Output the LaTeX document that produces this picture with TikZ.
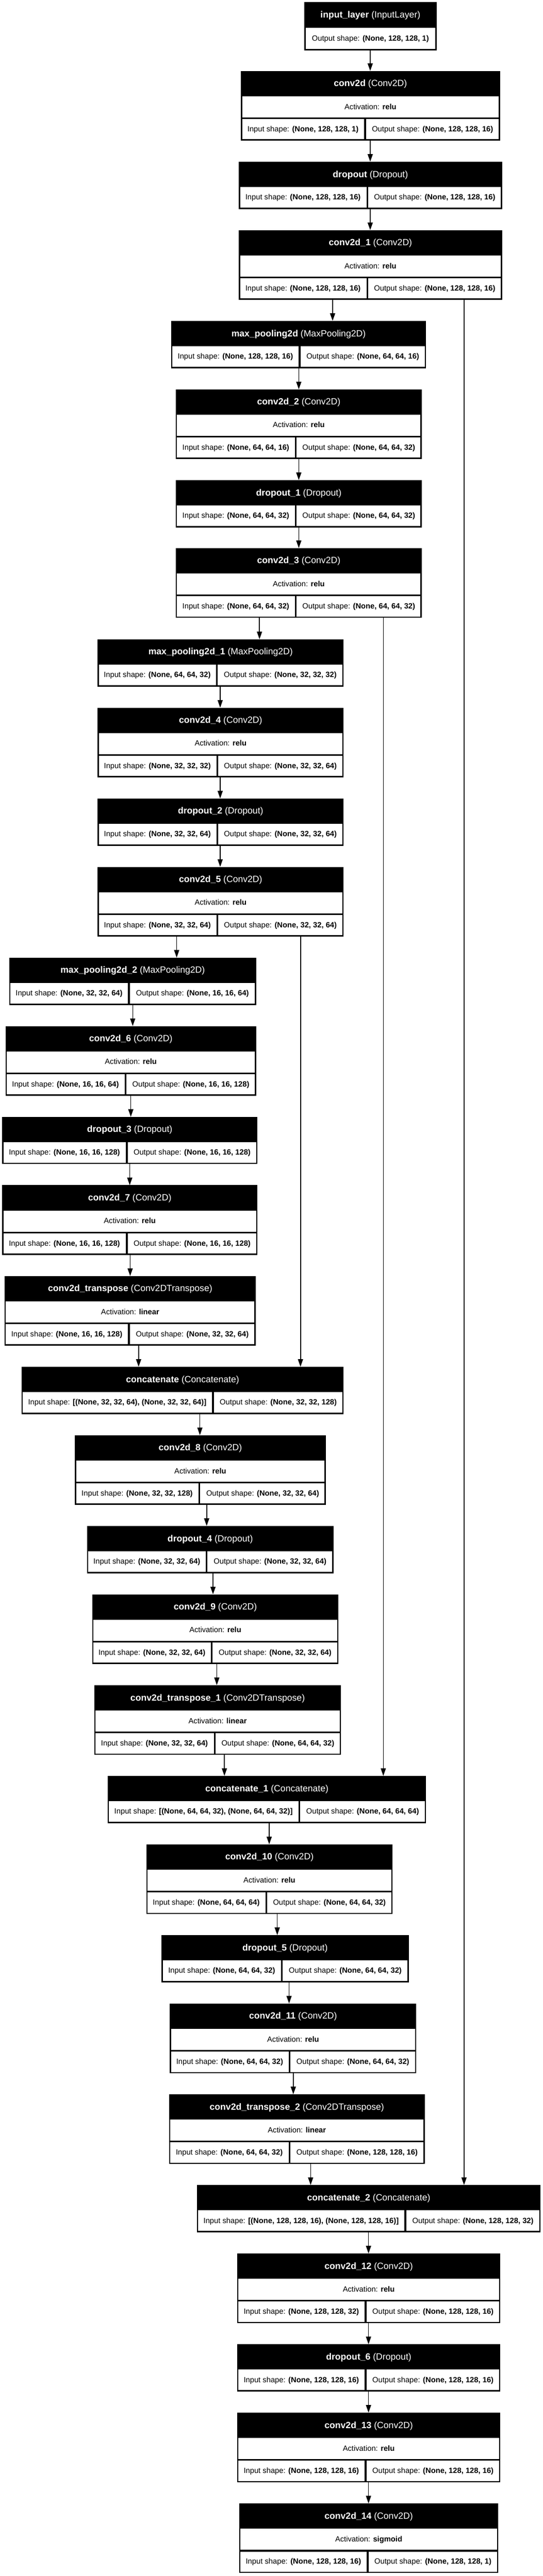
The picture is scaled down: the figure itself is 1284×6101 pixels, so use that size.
\documentclass[tikz,border=0pt]{standalone}
\usepackage{fontspec}
\setmainfont{Liberation Sans}
\usetikzlibrary{arrows.meta}
\newcommand{\bodyfnt}{\fontsize{18}{21}\selectfont}
\newcommand{\headfnt}{\fontsize{21.5}{25}\selectfont}
\tikzset{
  layerbox/.style={fill=black, inner sep=0pt, outer sep=0pt, rectangle, anchor=north west},
  bodytxt/.style={font=\bodyfnt, text=black, inner sep=0pt, anchor=center, text height=15pt, text depth=3.5pt},
  headtxt/.style={font=\headfnt, text=white, inner sep=0pt, anchor=center, text height=17.9pt, text depth=4.2pt},
  flow/.style={line width=2pt, -{Triangle[length=18pt,width=12pt]}},
}
% name, L, R, D, T, header, activation, in, out
\newcommand{\convlayer}[9]{%
  \node[layerbox, minimum width={(#3-#2)*1pt}, minimum height=165pt] (#1) at (#2,#5) {};
  \fill[white] ({#2+3},{#5+60}) rectangle ({#3-3},{#5+110});
  \fill[white] ({#2+3},{#5+114}) rectangle ({#4-2},{#5+162});
  \fill[white] ({#4+2},{#5+114}) rectangle ({#3-3},{#5+162});
  \node[headtxt] (#1-h) at ({(#2+#3)/2},{#5+30}) {#6};
  \node[bodytxt] (#1-a) at ({(#2+#3)/2},{#5+85}) {Activation: \textbf{#7}};
  \node[bodytxt] (#1-i) at ({(#2+#4)/2},{#5+138}) {Input shape: \textbf{#8}};
  \node[bodytxt] (#1-o) at ({(#4+#3)/2},{#5+138}) {Output shape: \textbf{#9}};
}
% name, L, R, D, T, header, in, out
\newcommand{\tworowlayer}[8]{%
  \node[layerbox, minimum width={(#3-#2)*1pt}, minimum height=112pt] (#1) at (#2,#5) {};
  \fill[white] ({#2+3},{#5+60}) rectangle ({#4-2},{#5+109});
  \fill[white] ({#4+2},{#5+60}) rectangle ({#3-3},{#5+109});
  \node[headtxt] (#1-h) at ({(#2+#3)/2},{#5+30}) {#6};
  \node[bodytxt] (#1-i) at ({(#2+#4)/2},{#5+84.5}) {Input shape: \textbf{#7}};
  \node[bodytxt] (#1-o) at ({(#4+#3)/2},{#5+84.5}) {Output shape: \textbf{#8}};
}
\newcommand{\arrowat}[3]{%
  \coordinate (ax) at (#3,0);
  \draw[flow] (#1.south -| ax) -- (#2.north -| ax);
}
\begin{document}
\begin{tikzpicture}[x=1pt,y=-1pt]
\useasboundingbox (0,0) rectangle (1284,6101);
\fill[white] (0,0) rectangle (1284,6101);

% input layer
\node[layerbox, minimum width=313pt, minimum height=114pt] (inp) at (720,5) {};
\fill[white] (723,66) rectangle (1030,116);
\node[headtxt] (inp-h) at (876.5,35.5) {\textbf{input\_layer} (InputLayer)};
\node[bodytxt] (inp-o) at (876.5,91) {Output shape: \textbf{(None, 128, 128, 1)}};

\convlayer{c0}{570}{1183}{864}{168}{\textbf{conv2d} (Conv2D)}{relu}{(None, 128, 128, 1)}{(None, 128, 128, 16)}
\tworowlayer{d0}{565}{1188}{869}{383}{\textbf{dropout} (Dropout)}{(None, 128, 128, 16)}{(None, 128, 128, 16)}
\convlayer{c1}{565}{1188}{869}{545}{\textbf{conv2d\_1} (Conv2D)}{relu}{(None, 128, 128, 16)}{(None, 128, 128, 16)}
\tworowlayer{m0}{405}{1008}{709}{760}{\textbf{max\_pooling2d} (MaxPooling2D)}{(None, 128, 128, 16)}{(None, 64, 64, 16)}
\convlayer{c2}{416}{998}{700}{922}{\textbf{conv2d\_2} (Conv2D)}{relu}{(None, 64, 64, 16)}{(None, 64, 64, 32)}
\tworowlayer{d1}{416}{998}{700}{1137}{\textbf{dropout\_1} (Dropout)}{(None, 64, 64, 32)}{(None, 64, 64, 32)}
\convlayer{c3}{416}{998}{700}{1298}{\textbf{conv2d\_3} (Conv2D)}{relu}{(None, 64, 64, 32)}{(None, 64, 64, 32)}
\tworowlayer{m1}{231}{813}{513}{1514}{\textbf{max\_pooling2d\_1} (MaxPooling2D)}{(None, 64, 64, 32)}{(None, 32, 32, 32)}
\convlayer{c4}{231}{813}{514}{1676}{\textbf{conv2d\_4} (Conv2D)}{relu}{(None, 32, 32, 32)}{(None, 32, 32, 64)}
\tworowlayer{d2}{231}{813}{514}{1891}{\textbf{dropout\_2} (Dropout)}{(None, 32, 32, 64)}{(None, 32, 32, 64)}
\convlayer{c5}{231}{813}{514}{2053}{\textbf{conv2d\_5} (Conv2D)}{relu}{(None, 32, 32, 64)}{(None, 32, 32, 64)}
\tworowlayer{m2}{22}{606}{305}{2268}{\textbf{max\_pooling2d\_2} (MaxPooling2D)}{(None, 32, 32, 64)}{(None, 16, 16, 64)}
\convlayer{c6}{13}{606}{297}{2430}{\textbf{conv2d\_6} (Conv2D)}{relu}{(None, 16, 16, 64)}{(None, 16, 16, 128)}
\tworowlayer{d3}{5}{609}{300}{2645}{\textbf{dropout\_3} (Dropout)}{(None, 16, 16, 128)}{(None, 16, 16, 128)}
\convlayer{c7}{5}{609}{300}{2807}{\textbf{conv2d\_7} (Conv2D)}{relu}{(None, 16, 16, 128)}{(None, 16, 16, 128)}
\convlayer{t0}{11}{605}{305}{3022}{\textbf{conv2d\_transpose} (Conv2DTranspose)}{linear}{(None, 16, 16, 128)}{(None, 32, 32, 64)}
\tworowlayer{k0}{51}{813}{504}{3237}{\textbf{concatenate} (Concatenate)}{[(None, 32, 32, 64), (None, 32, 32, 64)]}{(None, 32, 32, 128)}
\convlayer{c8}{177}{771}{472}{3399}{\textbf{conv2d\_8} (Conv2D)}{relu}{(None, 32, 32, 128)}{(None, 32, 32, 64)}
\tworowlayer{d4}{206}{789}{489}{3614}{\textbf{dropout\_4} (Dropout)}{(None, 32, 32, 64)}{(None, 32, 32, 64)}
\convlayer{c9}{218}{801}{501}{3776}{\textbf{conv2d\_9} (Conv2D)}{relu}{(None, 32, 32, 64)}{(None, 32, 32, 64)}
\convlayer{t1}{223}{807}{508}{3991}{\textbf{conv2d\_transpose\_1} (Conv2DTranspose)}{linear}{(None, 32, 32, 64)}{(None, 64, 64, 32)}
\tworowlayer{k1}{255}{1008}{708}{4206}{\textbf{concatenate\_1} (Concatenate)}{[(None, 64, 64, 32), (None, 64, 64, 32)]}{(None, 64, 64, 64)}
\convlayer{c10}{346}{929}{630}{4368}{\textbf{conv2d\_10} (Conv2D)}{relu}{(None, 64, 64, 64)}{(None, 64, 64, 32)}
\tworowlayer{d5}{382}{967}{667}{4583}{\textbf{dropout\_5} (Dropout)}{(None, 64, 64, 32)}{(None, 64, 64, 32)}
\convlayer{c11}{402}{985}{685}{4745}{\textbf{conv2d\_11} (Conv2D)}{relu}{(None, 64, 64, 32)}{(None, 64, 64, 32)}
\convlayer{t2}{400}{1005}{685}{4960}{\textbf{conv2d\_transpose\_2} (Conv2DTranspose)}{linear}{(None, 64, 64, 32)}{(None, 128, 128, 16)}
\tworowlayer{k2}{466}{1279}{959}{5175}{\textbf{concatenate\_2} (Concatenate)}{[(None, 128, 128, 16), (None, 128, 128, 16)]}{(None, 128, 128, 32)}
\convlayer{c12}{561}{1184}{865}{5337}{\textbf{conv2d\_12} (Conv2D)}{relu}{(None, 128, 128, 32)}{(None, 128, 128, 16)}
\tworowlayer{d6}{561}{1184}{865}{5552}{\textbf{dropout\_6} (Dropout)}{(None, 128, 128, 16)}{(None, 128, 128, 16)}
\convlayer{c13}{561}{1184}{865}{5714}{\textbf{conv2d\_13} (Conv2D)}{relu}{(None, 128, 128, 16)}{(None, 128, 128, 16)}
\convlayer{c14}{566}{1179}{870}{5929}{\textbf{conv2d\_14} (Conv2D)}{sigmoid}{(None, 128, 128, 16)}{(None, 128, 128, 1)}

% connectors
\arrowat{inp}{c0}{876}
\arrowat{c0}{d0}{876}
\arrowat{d0}{c1}{876}
\arrowat{c1}{m0}{787}
\arrowat{c1}{k2}{1098}
\arrowat{m0}{c2}{707}
\arrowat{c2}{d1}{707}
\arrowat{d1}{c3}{707}
\arrowat{c3}{m1}{614}
\arrowat{c3}{k1}{907}
\arrowat{m1}{c4}{521}
\arrowat{c4}{d2}{521}
\arrowat{d2}{c5}{521}
\arrowat{c5}{m2}{418}
\arrowat{c5}{k0}{711}
\arrowat{m2}{c6}{314}
\arrowat{c6}{d3}{309.5}
\arrowat{d3}{c7}{307}
\arrowat{c7}{t0}{308}
\arrowat{t0}{k0}{328}
\arrowat{k0}{c8}{473}
\arrowat{c8}{d4}{489}
\arrowat{d4}{c9}{504}
\arrowat{c9}{t1}{513}
\arrowat{t1}{k1}{531}
\arrowat{k1}{c10}{637}
\arrowat{c10}{d5}{656}
\arrowat{d5}{c11}{684}
\arrowat{c11}{t2}{694}
\arrowat{t2}{k2}{735}
\arrowat{k2}{c12}{872}
\arrowat{c12}{d6}{872}
\arrowat{d6}{c13}{872}
\arrowat{c13}{c14}{872}
\end{tikzpicture}
\end{document}
